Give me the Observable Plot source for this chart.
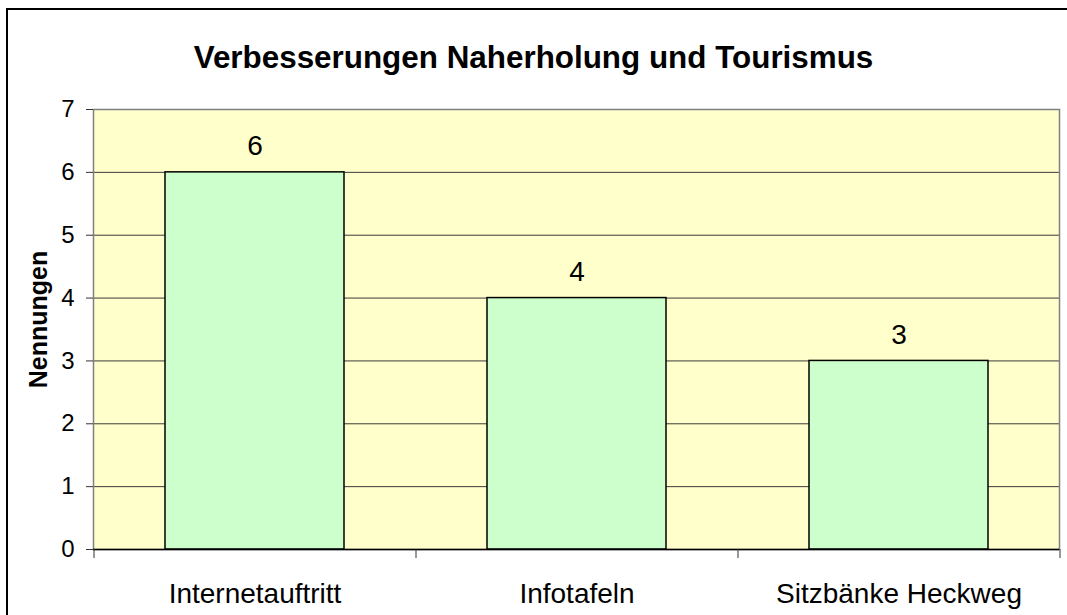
<!DOCTYPE html>
<html>
<head>
<meta charset="utf-8">
<script src="https://cdn.jsdelivr.net/npm/d3@7"></script>
<script src="https://cdn.jsdelivr.net/npm/@observablehq/plot@0.6"></script>
<style>
  html, body { margin: 0; padding: 0; background: #fff; }
  #wrap { position: relative; width: 1067px; height: 615px; overflow: hidden; font-family: "Liberation Sans", Arial, sans-serif; }
  #border { position: absolute; left: 6px; top: 8px; width: 2000px; height: 2000px; border-left: 2px solid #000; border-top: 2px solid #000; }
  #title { position: absolute; left: 0; top: 38px; width: 1067px; text-align: center; font-weight: bold; font-size: 31.4px; line-height: 40px; color: #000; }
  #chart { position: absolute; left: 0; top: 100px; }
</style>
</head>
<body>
<div id="wrap">
  <div id="border"></div>
  <div id="title"></div>
  <div id="chart"></div>
</div>
<script>
const titleText = "Verbesserungen Naherholung und Tourismus";
const yLabel = "Nennungen";
const categories = ["Internetauftritt", "Infotafeln", "Sitzbänke Heckweg"];
const values = [6, 4, 3];
const yTicks = [0, 1, 2, 3, 4, 5, 6, 7];

const FONT = '"Liberation Sans", Arial, sans-serif';
const data = categories.map((c, i) => ({category: c, value: values[i]}));

const W = 1067, H = 515, mL = 93, mR = 8, mT = 9, mB = 66;
const step = (W - mL - mR) / categories.length;

document.getElementById("title").textContent = titleText;

const chart = Plot.plot({
  width: W,
  height: H,
  marginLeft: mL,
  marginRight: mR,
  marginTop: mT,
  marginBottom: mB,
  style: {fontFamily: FONT, background: "transparent", color: "#000", overflow: "visible"},
  x: {domain: categories, paddingInner: 0.4444, paddingOuter: 0.2222, label: null},
  y: {domain: [0, 7], label: null},
  marks: [
    Plot.frame({fill: "#FFFFCC"}),
    Plot.gridY(yTicks, {stroke: "#3a3a3a", strokeOpacity: 1, strokeWidth: 1}),
    Plot.frame({stroke: "#808080", strokeWidth: 1.5}),
    Plot.barY(data, {x: "category", y: "value", fill: "#CCFFCC", stroke: "#000", strokeWidth: 1.5}),
    Plot.ruleY([0], {stroke: "#000", strokeWidth: 1.5}),
    Plot.axisY(yTicks, {label: null, tickSize: 7, tickPadding: 12, fontSize: 24, tickFormat: d => String(d), stroke: "#333", fill: "#000"}),
    Plot.axisX({label: null, tickSize: 0, tickPadding: 34, fontSize: 28, fill: "#000"}),
    Plot.axisX({label: null, text: null, tickSize: 9, dx: -step / 2, stroke: "#333"}),
    Plot.axisX([categories[categories.length - 1]], {label: null, text: null, tickSize: 9, dx: step / 2, stroke: "#333"}),
    Plot.text(data, {x: "category", y: "value", text: d => String(d.value), lineAnchor: "bottom", dy: -17, fontSize: 28, fill: "#000"}),
    Plot.text([yLabel], {frameAnchor: "left", textAnchor: "middle", lineAnchor: "middle", rotate: -90, dx: -55, dy: -10, fontSize: 25, fontWeight: "bold", fill: "#000"})
  ]
});
document.getElementById("chart").appendChild(chart);
</script>
</body>
</html>
